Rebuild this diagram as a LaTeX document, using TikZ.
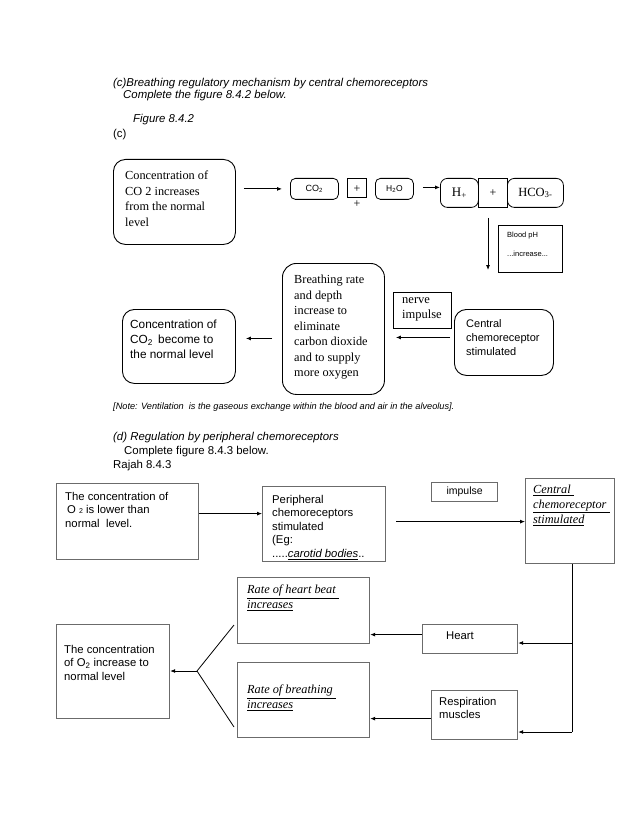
\documentclass[tikz,border=0pt]{standalone}
\usepackage{fontspec}
\setmainfont{Liberation Sans}
\newfontfamily\tnr{Liberation Serif}
\usetikzlibrary{arrows.meta,positioning}
\definecolor{boxgray}{gray}{0.42}

\begin{document}
\begin{tikzpicture}[x=1pt, y=-1pt,
rbox/.style={draw, rounded corners=12pt, line width=0.9pt, inner sep=0pt, anchor=north west},
sbox/.style={draw, rounded corners=5pt, line width=0.8pt, inner sep=0pt, anchor=north west},
qbox/.style={draw, line width=0.8pt, inner sep=0pt, anchor=north west},
gbox/.style={draw=boxgray, line width=1.2pt, inner sep=0pt, anchor=north west},
txt/.style={inner sep=0pt, align=left, anchor=north west},
serif/.style={font=\tnr\fontsize{12.3}{15.5}\selectfont},
sans/.style={font=\fontsize{11.3}{13.5}\selectfont},
uital/.style={font=\tnr\itshape\fontsize{12.3}{14.8}\selectfont},
head/.style={inner sep=0pt, anchor=base west, font=\itshape\fontsize{11.4}{13}\selectfont},
arr/.style={-{Latex[length=5pt,width=4pt]}, line width=0.8pt}]

\useasboundingbox (0,0) rectangle (638,826);

% headings
\node[head] (titc) at (113,87) {(c)Breathing regulatory mechanism by central chemoreceptors};
\node[head] (taskc) at (123,99) {Complete the figure 8.4.2 below.};
\node[head] (figc) at (133,123) {Figure 8.4.2};
\node[head, font=\fontsize{11.4}{13}\selectfont] (labc) at (113,138) {(c)};

% central chemoreceptors
\node[rbox, minimum width=122, minimum height=85] (rise) at (113,159) {};
\node[txt, serif, below right=12pt and 12pt of rise.north west] (risetxt)
  {Concentration of\\CO 2 increases\\from the normal\\level};
\node[sbox, minimum width=48, minimum height=21, font=\fontsize{9}{10}\selectfont] (co2) at (290,178) {CO\textsubscript{2}\hspace{6pt}};
\node[qbox, minimum width=19, minimum height=19] (plusa) at (347,178) {};
\node[inner sep=0pt, font=\tnr\fontsize{12}{12}\selectfont] (plusatxt) at ([yshift=-1pt]plusa.center) {+};
\node[inner sep=0pt, font=\tnr\fontsize{12}{12}\selectfont] (plusc) at (357,204) {+};
\node[sbox, minimum width=38, minimum height=21, font=\fontsize{8.5}{10}\selectfont] (h2o) at (375,178) {H\textsubscript{2}O};
\node[sbox, rounded corners=7pt, minimum width=38, minimum height=29, font=\tnr\fontsize{13}{13}\selectfont] (hplus) at (440,178) {H\textsubscript{+}};
\node[qbox, minimum width=29, minimum height=29, font=\tnr\fontsize{12}{12}\selectfont] (plusb) at (478,178) {+};
\node[sbox, rounded corners=7pt, minimum width=56, minimum height=29, font=\tnr\fontsize{12.5}{13}\selectfont] (hco) at (507,178) {HCO\textsubscript{3-}};
\node[qbox, minimum width=64, minimum height=47] (ph) at (498,225) {};
\node[txt, font=\fontsize{7.5}{19}\selectfont, below right=7pt and 9pt of ph.north west] (phtxt)
  {Blood pH\\...increase...};
\node[rbox, rounded corners=14pt, minimum width=102, minimum height=131] (breath) at (282,263) {};
\node[txt, serif, below right=12pt and 12pt of breath.north west] (breathtxt)
  {Breathing rate\\and depth\\increase to\\eliminate\\carbon dioxide\\and to supply\\more oxygen};
\node[qbox, minimum width=58, minimum height=36] (nerve) at (393,292) {};
\node[txt, font=\tnr\fontsize{12.5}{15}\selectfont, below right=5pt and 9pt of nerve.north west] (nervetxt)
  {nerve\\impulse};
\node[rbox, minimum width=99, minimum height=66] (central) at (454,309) {};
\node[txt, font=\fontsize{11}{14}\selectfont, below right=10pt and 12pt of central.north west] (centraltxt)
  {Central\\chemoreceptor\\stimulated};
\node[rbox, minimum width=113, minimum height=74] (back) at (122,309) {};
\node[txt, font=\fontsize{11.8}{15}\selectfont, below right=11pt and 8pt of back.north west] (backtxt)
  {Concentration of\\CO\textsubscript{2}\, become to\\the normal level};

\draw[arr, shorten <=8pt, shorten >=8pt] (co2.west -| rise.east) -- (co2.west);
\draw[arr, shorten <=9pt] ([yshift=1.5pt]h2o.east) -- ([yshift=1.5pt]h2o.east -| hplus.west);
\coordinate (phend) at (488,270);
\draw[arr, shorten <=10pt] (plusb.south -| phend) -- (phend);
\draw[arr, shorten <=4pt, shorten >=11pt] ([yshift=5pt]central.west) -- ([yshift=5pt]central.west -| breath.east);
\draw[arr, shorten <=10pt, shorten >=10pt] ([yshift=-9.5pt]breath.west) -- ([yshift=-9.5pt]breath.west -| back.east);

\node[head, font=\itshape\fontsize{9.2}{10}\selectfont] (note) at (113,409)
  {[Note: Ventilation\ \ is the gaseous exchange within the blood and air in the alveolus].};

% peripheral chemoreceptors
\node[head] (titd) at (113,440) {(d) Regulation by peripheral chemoreceptors};
\node[head, font=\fontsize{11.4}{13}\selectfont] (taskd) at (124,454) {Complete figure 8.4.3 below.};
\node[head, font=\fontsize{11.4}{13}\selectfont] (rajah) at (113,468) {Rajah 8.4.3};

\node[gbox, minimum width=142, minimum height=76] (o2low) at (56,483) {};
\node[txt, sans, below right=9pt and 9pt of o2low.north west] (o2lowtxt)
  {The concentration of\\\hspace{2pt}O {\fontsize{7}{8}\selectfont 2} is lower than\\normal\ \ level.};
\node[gbox, minimum width=123, minimum height=75] (periph) at (262,486) {};
\node[txt, sans, below right=9pt and 10pt of periph.north west] (periphtxt)
  {Peripheral\\chemoreceptors\\stimulated\\(Eg:\\.....\underline{\textit{carotid bodies}}..};
\node[gbox, minimum width=66, minimum height=19, font=\fontsize{10.5}{12}\selectfont] (imp) at (431,482) {impulse};
\node[gbox, minimum width=89, minimum height=85] (centralb) at (525,478) {};
\node[txt, uital, below right=7pt and 8pt of centralb.north west] (centralbtxt)
  {\underline{Central\ }\\\underline{chemoreceptor\ }\\\underline{stimulated}};
\node[gbox, minimum width=132, minimum height=66] (heartrate) at (237,577) {};
\node[txt, uital, below right=8pt and 10pt of heartrate.north west] (heartratetxt)
  {\underline{Rate of heart beat\ }\\\underline{increases}};
\node[gbox, minimum width=132, minimum height=75] (breathrate) at (237,662) {};
\node[txt, uital, below right=23pt and 10pt of breathrate.north west] (breathratetxt)
  {\underline{Rate of breathing\ }\\\underline{increases}};
\node[gbox, minimum width=113, minimum height=94] (o2up) at (56,624) {};
\node[txt, sans, below right=21pt and 8pt of o2up.north west] (o2uptxt)
  {The concentration\\of O\textsubscript{2} increase to\\normal level};
\node[gbox, minimum width=95, minimum height=29] (heart) at (422,624) {};
\node[inner sep=0pt, sans] (hearttxt) at (460,635.5) {Heart};
\node[gbox, minimum width=86, minimum height=49] (resp) at (431,690) {};
\node[txt, sans, below right=7pt and 8pt of resp.north west] (resptxt)
  {Respiration\\muscles};

\draw[arr] ([yshift=8pt]o2low.east) -- ([yshift=8pt]o2low.east -| periph.west);
\draw[arr, shorten <=10pt] ([yshift=2.5pt]periph.east) -- ([yshift=2.5pt]periph.east -| centralb.west);
\coordinate (trunk) at (572,732);
\coordinate (hbranch) at (572,643);
\draw[line width=0.8pt] (centralb.south -| trunk) -- (trunk);
\draw[arr] (trunk) -- (trunk -| resp.east);
\draw[arr] (hbranch) -- (hbranch -| heart.east);
\draw[arr] ([yshift=4.5pt]heart.west) -- ([yshift=4.5pt]heart.west -| heartrate.east);
\draw[arr] ([yshift=-3.5pt]resp.west) -- ([yshift=-3.5pt]resp.west -| breathrate.east);
\coordinate (fork) at (197,671);
\coordinate (forkup) at (234,625);
\coordinate (forkdn) at (234,727);
\draw[line width=0.8pt] (forkup) -- (fork) -- (forkdn);
\draw[arr] (fork) -- (fork -| o2up.east);

\end{tikzpicture}
\end{document}
